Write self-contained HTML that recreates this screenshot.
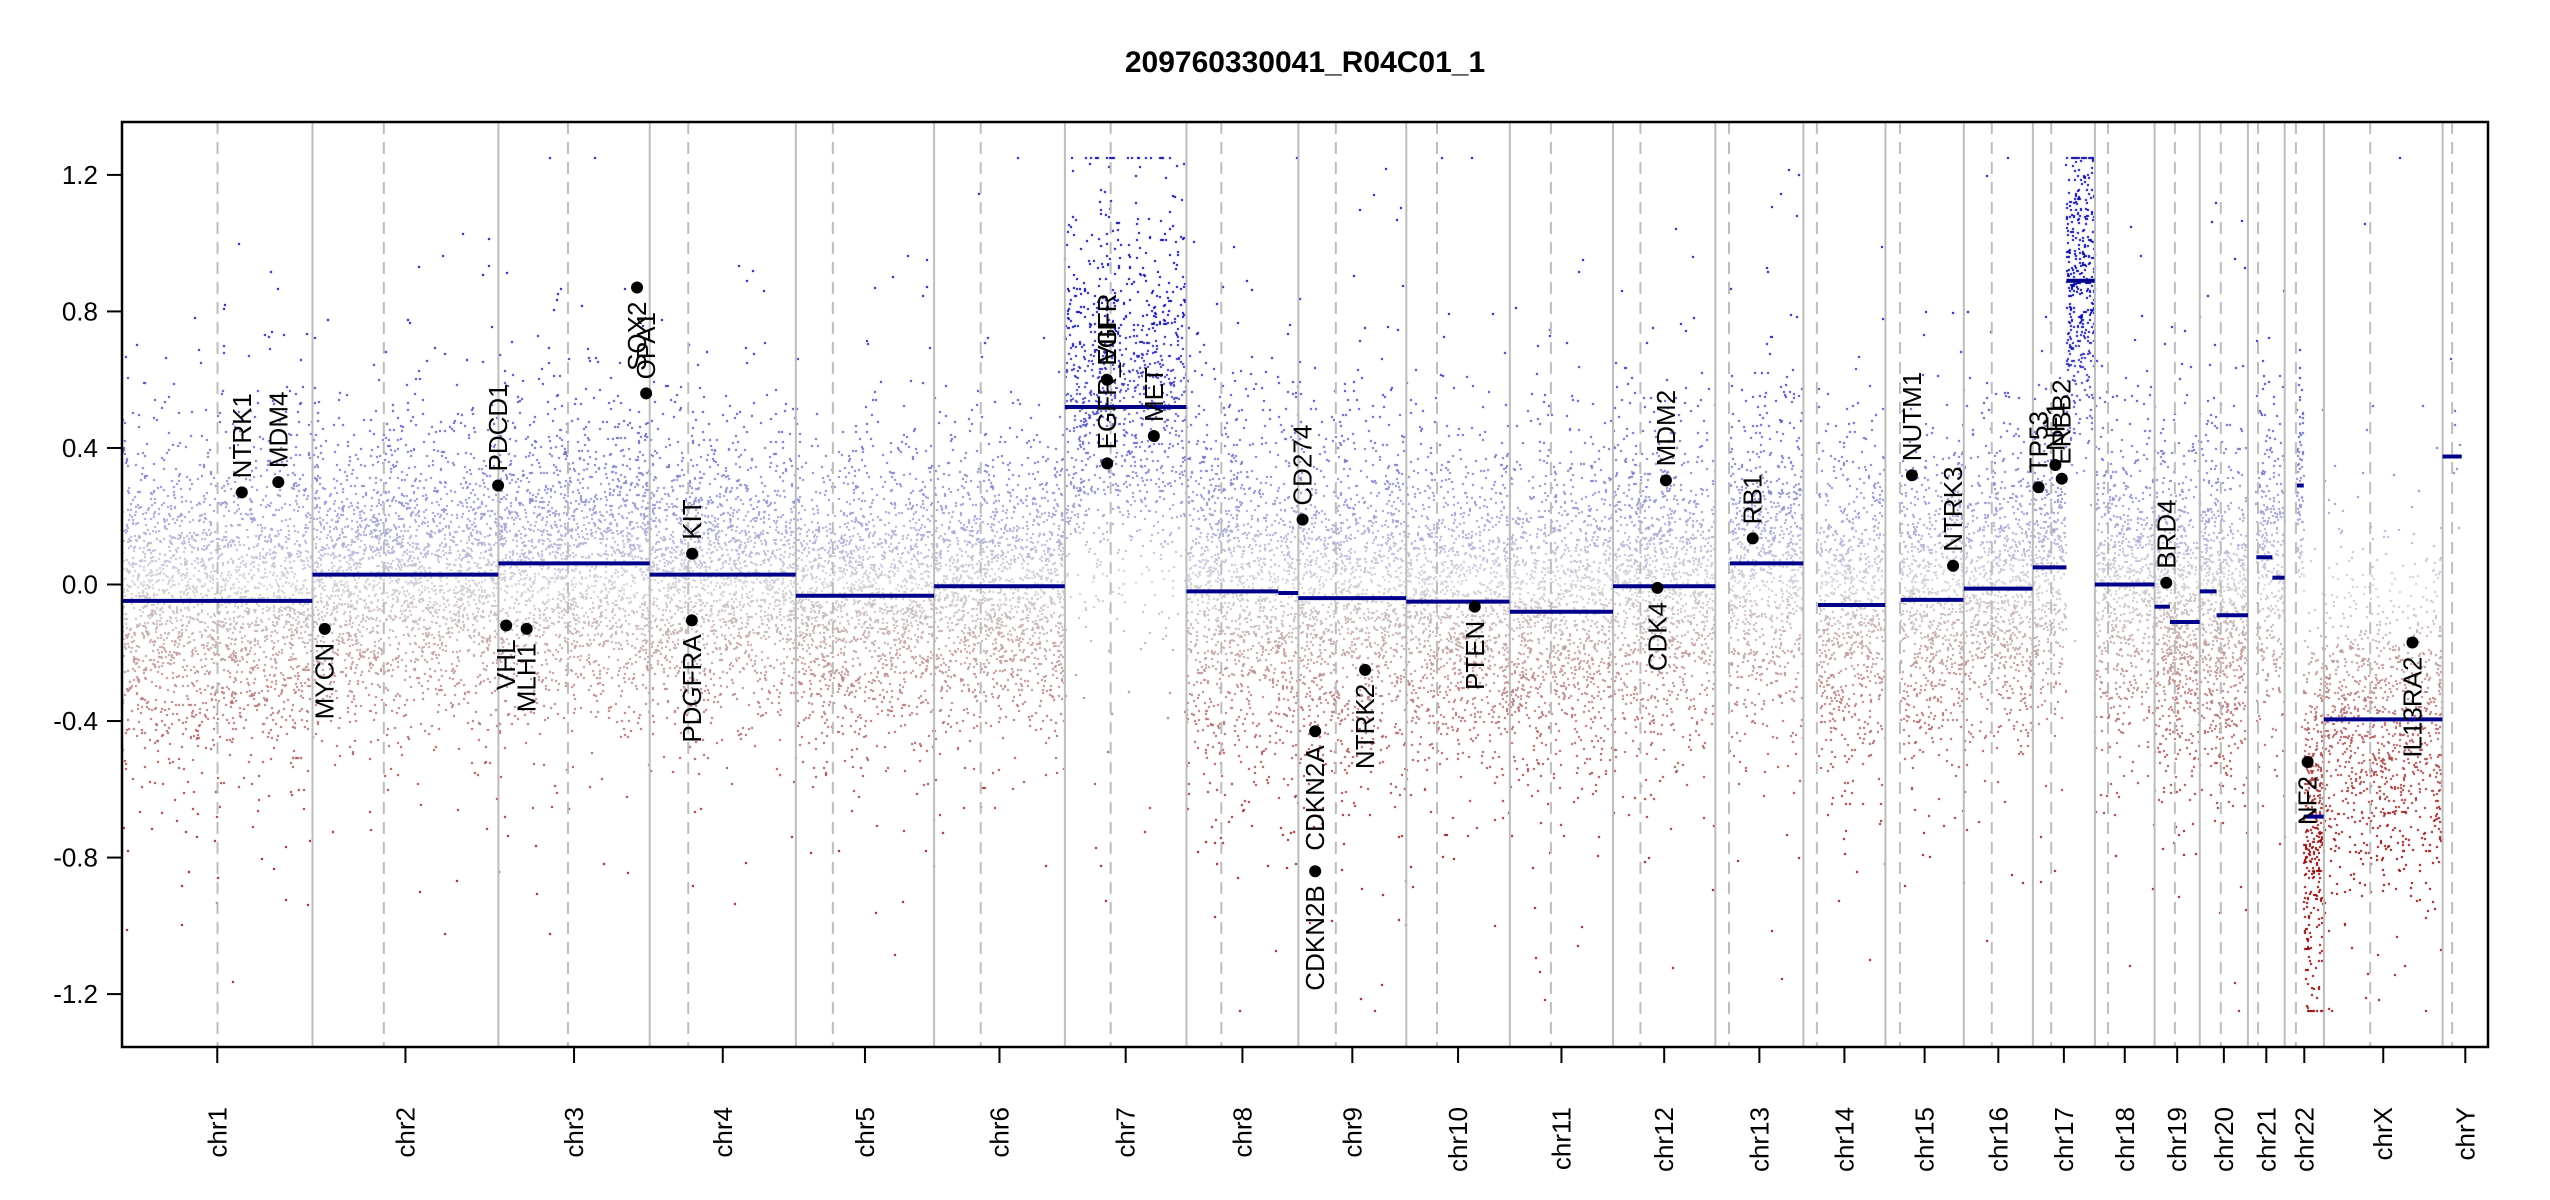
<!DOCTYPE html>
<html><head><meta charset="utf-8"><style>
html,body{margin:0;padding:0;background:#fff;}
#wrap{position:relative;width:2550px;height:1200px;overflow:hidden;font-family:"Liberation Sans",sans-serif;}
canvas,svg{position:absolute;left:0;top:0;}
</style></head><body>
<div id="wrap">
<canvas id="pts" width="2550" height="1200"></canvas>
<svg id="svg" width="2550" height="1200" xmlns="http://www.w3.org/2000/svg"></svg>
</div>
<script>
// ---- data ----
const chrNames = ["chr1","chr2","chr3","chr4","chr5","chr6","chr7","chr8","chr9","chr10","chr11","chr12","chr13","chr14","chr15","chr16","chr17","chr18","chr19","chr20","chr21","chr22","chrX","chrY"];
const chrLen = [249.25,243.2,198.0,191.15,180.9,171.1,159.1,146.4,141.2,135.5,135.0,133.85,115.2,107.35,102.5,90.35,81.2,78.1,59.1,63.0,48.1,51.3,155.3,59.4];
const chrCen = [125,93.3,91,50.4,48.4,61,59.9,45.6,49,40.2,53.7,35.8,17.9,17.6,19,36.6,24,17.2,26.5,27.5,13.2,14.7,60.6,12.5];
const segChr = ["chr1","chr2","chr3","chr4","chr5","chr6","chr7","chr8","chr8","chr9","chr10","chr11","chr12","chr13","chr14","chr15","chr16","chr17","chr17","chr18","chr19","chr19","chr20","chr20","chr21","chr21","chr22","chr22","chrX","chrY"];
const segStart = [0,0,0,0,0,0,0,0,120,0,0,0,0,19,19,20,0,0,44,0,0,20,0,22,11,32,16,25,0,0];
const segEnd = [249,243,198,191,181,171,159,120,146,141,135,135,134,115,107,102,90,44,81,78,20,59,22,63,32,48,25,51,155,25];
const segValue = [-0.048,0.029,0.062,0.029,-0.033,-0.005,0.52,-0.02,-0.025,-0.04,-0.05,-0.08,-0.005,0.062,-0.06,-0.045,-0.012,0.05,0.89,0.0,-0.065,-0.11,-0.02,-0.09,0.08,0.02,0.29,-0.68,-0.395,0.375];
const segSpread = [0.22,0.19,0.21,0.19,0.19,0.19,0.28,0.26,0.26,0.24,0.22,0.22,0.22,0.22,0.22,0.22,0.2,0.2,0.22,0.22,0.22,0.22,0.22,0.22,0.22,0.22,0.15,0.25,0.24,0.1];
const segDensity = [9,9,9,9,9,9,7,9,9,9,9,9,9,9,9,9,9,9,11,9,12,12,12,12,9,9,9,14,7,0.3];
const geneName = ["NTRK1","MDM4","MYCN","PDCD1","VHL","MLH1","SOX2","OPA1","KIT","PDGFRA","EGFR","EGFR_VIII","MET","CD274","CDKN2A","CDKN2B","NTRK2","PTEN","CDK4","MDM2","RB1","NUTM1","NTRK3","TP53","NF1","ERBB2","BRD4","NF2","IL13RA2"];
const geneChr = ["chr1","chr1","chr2","chr2","chr3","chr3","chr3","chr3","chr4","chr4","chr7","chr7","chr7","chr9","chr9","chr9","chr9","chr10","chr12","chr12","chr13","chr15","chr15","chr17","chr17","chr17","chr19","chr22","chrX"];
const genePos = [156.8,204.5,16,242.8,10.2,37,181.4,193.3,55.5,55.1,55.1,55.3,116.4,5.5,21.97,22.0,87.3,89.6,58.1,69.2,48.9,34.6,88.5,7.5,29.5,37.8,15.3,30,115.9];
const geneValue = [0.27,0.30,-0.13,0.29,-0.12,-0.13,0.87,0.56,0.09,-0.105,0.60,0.355,0.435,0.19,-0.43,-0.84,-0.25,-0.065,-0.01,0.305,0.135,0.32,0.055,0.285,0.35,0.31,0.005,-0.52,-0.17];
const geneLabelBelow = ["MYCN","VHL","MLH1","SOX2","PDGFRA","CDKN2A","CDKN2B","NTRK2","PTEN","CDK4","NF2","IL13RA2"];
const yTicks = [-1.2,-0.8,-0.4,0,0.4,0.8,1.2];

// ---- layout ----
const L=122,R=2488,T=122,B=1047,YMIN=-1.355,YMAX=1.355;
const total=chrLen.reduce((a,b)=>a+b,0);
const cum={};let acc=0;chrNames.forEach((c,i)=>{cum[c]=acc;acc+=chrLen[i];});
const xs=(c,p)=>L+(cum[c]+p)/total*(R-L);
const ys=v=>T+(YMAX-v)/(YMAX-YMIN)*(B-T);

// ---- points (deterministic pseudo noise as background texture) ----
let seed=12345;function rnd(){seed=(seed*1103515245+12345)&0x7fffffff;return seed/0x7fffffff;}
function gauss(){return Math.sqrt(-2*Math.log(rnd()+1e-9))*Math.cos(2*Math.PI*rnd());}
const ctx=document.getElementById('pts').getContext('2d');
function col(v){
  if(v>=0){const t=Math.min(v/0.8,1);return `rgb(${Math.round(210-210*t)},${Math.round(210-210*t)},${Math.round(220-50*t)})`;}
  const t=Math.min(-v/0.8,1);return `rgb(${Math.round(210-70*t)},${Math.round(210-210*t)},${Math.round(210-210*t)})`;
}
segChr.forEach((c,i)=>{
  const n=Math.round((segEnd[i]-segStart[i])*segDensity[i]);
  for(let k=0;k<n;k++){
    const p=segStart[i]+rnd()*(segEnd[i]-segStart[i]);
    let v=segValue[i]+gauss()*segSpread[i]*(rnd()<0.12?1.9:1);
    v=Math.max(-1.25,Math.min(1.25,v));
    ctx.fillStyle=col(v);
    ctx.fillRect(Math.round(xs(c,p))-1,Math.round(ys(v))-1,2,2);
  }
});

// ---- svg ----
const svg=document.getElementById('svg');const NS="http://www.w3.org/2000/svg";
function mk(tag,attrs,parent){const e=document.createElementNS(NS,tag);for(const k in attrs)e.setAttribute(k,attrs[k]);(parent||svg).appendChild(e);return e;}

chrNames.forEach((c,i)=>{
  if(i>0){const l=mk('line',{x1:xs(c,0),x2:xs(c,0),y1:T,y2:B,stroke:'#bdbdbd','stroke-width':2});
    
    }
  const d=mk('line',{x1:xs(c,chrCen[i]),x2:xs(c,chrCen[i]),y1:T,y2:B,stroke:'#bdbdbd','stroke-width':2,'stroke-dasharray':'12,8'});
  
  
  const mx=xs(c,chrLen[i]/2);
  const tk=mk('line',{x1:mx,x2:mx,y1:B,y2:B+16,stroke:'#000','stroke-width':2});
  
  
  const t=mk('text',{x:0,y:0,transform:`translate(${mx+9},${B+60}) rotate(-90)`,'text-anchor':'end','font-size':26,fill:'#000'});
  t.textContent=c;
  
  
});

segChr.forEach((c,i)=>{
  const s=mk('line',{x1:xs(c,segStart[i]),x2:xs(c,segEnd[i]),y1:ys(segValue[i]),y2:ys(segValue[i]),stroke:'#00008B','stroke-width':4});
  
  
});

geneName.forEach((g,i)=>{
  const x=xs(geneChr[i],genePos[i]),y=ys(geneValue[i]);
  const d=mk('circle',{cx:x,cy:y,r:6,fill:'#000'});
  
  
  const below=geneLabelBelow.includes(g);
  const t=mk('text',{x:0,y:0,transform:`translate(${x+9},${below?y+14:y-14}) rotate(-90)`,'text-anchor':below?'end':'start','font-size':26,fill:'#000'});
  t.textContent=g;
  
  
});

yTicks.forEach(v=>{
  const y=ys(v);
  const l=mk('line',{x1:L-15,x2:L,y1:y,y2:y,stroke:'#000','stroke-width':2});
  
  
  const t=mk('text',{x:L-24,y:y+9,'text-anchor':'end','font-size':26,fill:'#000'});
  t.textContent=v.toFixed(1);
  
  
});

const box=mk('rect',{x:L,y:T,width:R-L,height:B-T,fill:'none',stroke:'#000','stroke-width':2.5});


const title=mk('text',{x:(L+R)/2,y:72,'text-anchor':'middle','font-size':30,'font-weight':'bold',fill:'#000'});
title.textContent='209760330041_R04C01_1';


</script>
</body></html>
